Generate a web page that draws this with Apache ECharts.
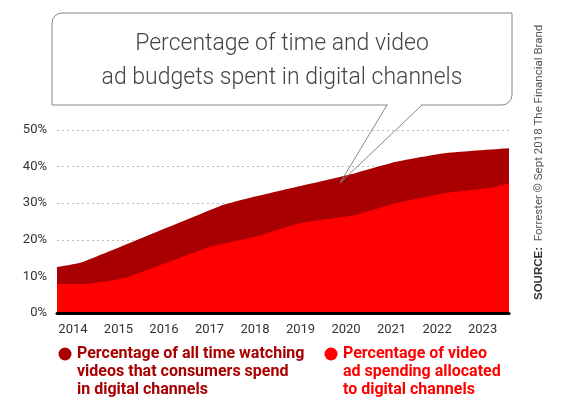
<!DOCTYPE html>
<html lang="en">
<head>
<meta charset="UTF-8">
<title>Digital video time and ad budgets</title>
<script src="https://cdn.jsdelivr.net/npm/echarts@6/dist/echarts.min.js"></script>
<style>
  html, body { margin: 0; padding: 0; background: #fff; }
  #main { width: 565px; height: 405px; }
</style>
</head>
<body>
<div id="main"></div>
<script>
// data (x = fractional year)
var yearTicks = [2014, 2015, 2016, 2017, 2018, 2019, 2020, 2021, 2022, 2023];
var watchYears = [2013.65, 2014.2, 2017.23, 2018.0, 2019.0, 2020.2, 2021.1, 2022.2, 2023.58];
var watchShare = [12.6, 13.9, 29.2, 31.8, 34.7, 38.2, 41.3, 43.7, 45.0];
var adYears = [2013.65, 2014.2, 2015.2, 2017.0, 2018.0, 2019.0, 2020.2, 2021.1, 2022.2, 2023.2, 2023.58];
var adShare = [7.9, 7.9, 9.8, 18.0, 20.8, 24.6, 26.8, 30.0, 32.8, 34.2, 35.5];
var yTicks = [0, 10, 20, 30, 40, 50];

var seriesNames = [
    'Percentage of all time watching\nvideos that consumers spend\nin digital channels',
    'Percentage of video\nad spending allocated\nto digital channels'
];
var darkRed = '#a80000';
var red = '#ff0000';

function pairs(xs, ys) {
    return xs.map(function (x, i) { return [x, ys[i]]; });
}

// legend drawn by hand so the dot sits on the first line of text
function legendItem(x, y, name, color) {
    return {
        type: 'group', x: x, y: y, z: 20,
        children: [
            { type: 'circle', shape: { cx: 0, cy: 0, r: 6.5 }, style: { fill: color } },
            {
                type: 'text', x: 12, y: -9,
                style: {
                    text: name, fill: color, fontSize: 16, fontWeight: 'bold',
                    lineHeight: 18, fontFamily: 'Roboto', align: 'left', verticalAlign: 'top'
                }
            }
        ]
    };
}

var myChart = echarts.init(document.getElementById('main'));

var option = {
    animation: false,
    textStyle: { fontFamily: 'Roboto' },
    grid: { left: 57, right: 56, top: 130, bottom: 92 },
    xAxis: {
        type: 'value',
        min: 2013.65,
        max: 2023.58,
        z: 10,
        axisLine: { lineStyle: { color: '#000', width: 3 } },
        axisTick: { show: false },
        splitLine: { show: false },
        axisLabel: {
            customValues: yearTicks,
            formatter: function (v) { return String(v); },
            color: '#333', fontSize: 13, margin: 10
        }
    },
    yAxis: {
        type: 'value',
        min: 0, max: 50, interval: 10,
        axisLine: { show: false },
        axisTick: { show: false },
        axisLabel: {
            customValues: yTicks,
            formatter: '{value}%',
            color: '#333', fontSize: 13, margin: 10
        },
        splitLine: { lineStyle: { color: '#bbb', type: [2, 3], width: 1.2 } }
    },
    series: [
        {
            name: seriesNames[0],
            type: 'line',
            data: pairs(watchYears, watchShare),
            showSymbol: false,
            smooth: 0.15,
            itemStyle: { color: darkRed },
            lineStyle: { width: 0 },
            areaStyle: { color: darkRed, opacity: 1 }
        },
        {
            name: seriesNames[1],
            type: 'line',
            data: pairs(adYears, adShare),
            showSymbol: false,
            smooth: 0.15,
            itemStyle: { color: red },
            lineStyle: { width: 0 },
            areaStyle: { color: red, opacity: 1 }
        }
    ],
    graphic: [
        // callout box
        {
            type: 'rect', z: 20,
            shape: { x: 52, y: 13, width: 460, height: 92, r: [10, 0, 10, 0] },
            style: { fill: '#fff', stroke: '#888', lineWidth: 1 }
        },
        {
            type: 'line', z: 21,
            shape: { x1: 388, y1: 105, x2: 421, y2: 105 },
            style: { stroke: '#fff', lineWidth: 2 }
        },
        {
            type: 'polyline', z: 21,
            shape: { points: [[387, 105], [340, 183], [422, 105]] },
            style: { stroke: '#888', lineWidth: 1, fill: null }
        },
        {
            type: 'text', z: 22,
            x: 282, y: 61,
            style: {
                text: 'Percentage of time and video\nad budgets spent in digital channels',
                align: 'center', verticalAlign: 'middle',
                fill: '#444', fontSize: 23, fontWeight: 300, lineHeight: 34,
                fontFamily: 'Roboto'
            }
        },
        // source note, reading bottom to top
        {
            type: 'text', z: 22,
            x: 539, y: 300,
            rotation: Math.PI / 2,
            style: {
                text: '{b|SOURCE:}  Forrester © Sept 2018 The Financial Brand',
                align: 'left', verticalAlign: 'middle',
                fill: '#555', fontSize: 11.5, fontFamily: 'Roboto',
                rich: { b: { fontWeight: 'bold', fontSize: 11.5, fill: '#333' } }
            }
        },
        legendItem(65, 354, seriesNames[0], darkRed),
        legendItem(331, 354, seriesNames[1], red)
    ]
};

myChart.setOption(option);
</script>
</body>
</html>
